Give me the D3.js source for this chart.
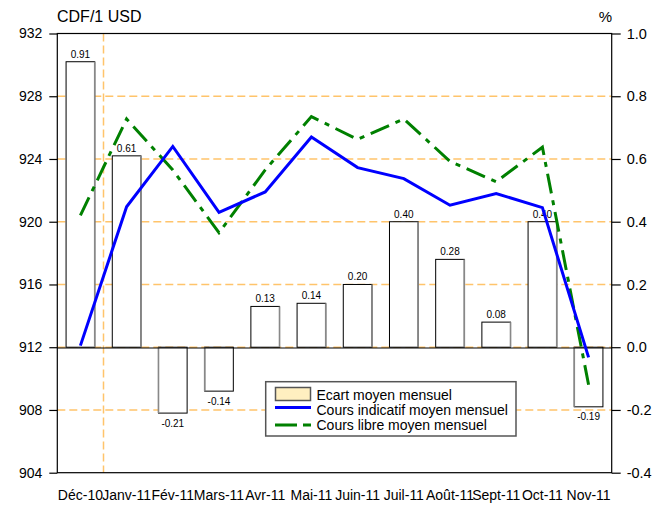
<!DOCTYPE html>
<html>
<head>
<meta charset="utf-8">
<script src="https://cdn.jsdelivr.net/npm/d3@7"></script>
<style>
  body { margin: 0; background: #fff; }
  svg { display: block; font-family: "Liberation Sans", Arial, sans-serif; }
</style>
</head>
<body>
<svg id="chart" width="666" height="507"></svg>
<script>
const categories = ["Déc-10","Janv-11","Fév-11","Mars-11","Avr-11","Mai-11","Juin-11","Juil-11","Août-11","Sept-11","Oct-11","Nov-11"];
const ecartValues = [0.91, 0.61, -0.21, -0.14, 0.13, 0.14, 0.20, 0.40, 0.28, 0.08, 0.40, -0.19];
const coursIndicatif = [912.1, 920.95, 924.8, 920.6, 921.9, 925.4, 923.45, 922.75, 921.05, 921.8, 920.9, 911.35];
const coursLibre = [920.4, 926.55, 923.3, 919.3, 923.3, 926.7, 925.25, 926.55, 923.85, 922.55, 924.75, 909.6];
const leftTicks = [904, 908, 912, 916, 920, 924, 928, 932];
const rightTicks = [-0.4, -0.2, 0.0, 0.2, 0.4, 0.6, 0.8, 1.0];
const gridValues = [908, 912, 916, 920, 924, 928];
const legendLabels = ["Ecart moyen mensuel", "Cours indicatif moyen mensuel", "Cours libre moyen mensuel"];

const L = 57.3, R = 611.7, T = 33.5, B = 472.7;
const svg = d3.select("#chart");

const x = d3.scaleBand().domain(categories).range([L, R]).paddingInner(0.38).paddingOuter(0.19);
const yL = d3.scaleLinear().domain([904, 932]).range([B, T]);
const yR = d3.scaleLinear().domain([-0.4, 1.0]).range([B, T]);
const step = x.step();
const bw = x.bandwidth();
const cx = c => x(c) + bw / 2;

const orange = "#FFC46B";

// gridlines
svg.append("g").selectAll("line").data(gridValues).join("line")
  .attr("x1", L).attr("x2", R)
  .attr("y1", d => yL(d)).attr("y2", d => yL(d))
  .attr("stroke", orange).attr("stroke-width", 1.5).attr("stroke-dasharray", "8,4");

// vertical dashed separator between Déc-10 and Janv-11
const sepX = x(categories[1]) - (step - bw) / 2;
svg.append("line")
  .attr("x1", sepX).attr("x2", sepX).attr("y1", T).attr("y2", B)
  .attr("stroke", orange).attr("stroke-width", 1.5).attr("stroke-dasharray", "8,4");

// bars
const bars = svg.append("g");
ecartValues.forEach((v, i) => {
  const c = categories[i];
  const x0 = x(c), x1 = x(c) + bw;
  const y0 = yR(0), y1 = yR(v);
  const top = Math.min(y0, y1), h = Math.abs(y1 - y0);
  bars.append("rect").attr("x", x0).attr("y", top).attr("width", bw).attr("height", h)
    .attr("fill", "#fff").attr("stroke", "#000").attr("stroke-width", 1);
  const sx = v >= 0 ? x1 : x0;
  bars.append("line").attr("x1", sx).attr("x2", sx).attr("y1", top).attr("y2", top + h)
    .attr("stroke", "#888").attr("stroke-width", 1.6);
});

// zero line (right axis)
svg.append("line").attr("x1", L).attr("x2", R).attr("y1", yR(0) + 0.8).attr("y2", yR(0) + 0.8)
  .attr("stroke", "#000").attr("stroke-width", 1.2);

// bar labels
const fmt2 = d => d3.format(".2f")(d).replace("−", "-");
svg.append("g").selectAll("text").data(ecartValues).join("text")
  .attr("x", (d, i) => cx(categories[i]))
  .attr("y", d => d >= 0 ? yR(d) - 4 : yR(d) + 13.5)
  .attr("text-anchor", "middle")
  .attr("font-size", 10).attr("fill", "#000")
  .text(d => fmt2(d));

// lines
const lineL = d3.line().x((d, i) => cx(categories[i])).y(d => yL(d));
svg.append("path").datum(coursLibre).attr("d", lineL)
  .attr("fill", "none").attr("stroke", "#008000").attr("stroke-width", 3)
  .attr("stroke-dasharray", "20,7,5,7");
svg.append("path").datum(coursIndicatif).attr("d", lineL)
  .attr("fill", "none").attr("stroke", "#0000FF").attr("stroke-width", 3);

// plot border
svg.append("rect").attr("x", L).attr("y", T).attr("width", R - L).attr("height", B - T)
  .attr("fill", "none").attr("stroke", "#000").attr("stroke-width", 1.2);

// axes
const axL = svg.append("g").attr("transform", `translate(${L},0)`)
  .call(d3.axisLeft(yL).tickValues(leftTicks).tickSize(8).tickPadding(7).tickFormat(d3.format("d")));
const axR = svg.append("g").attr("transform", `translate(${R},0)`)
  .call(d3.axisRight(yR).tickValues(rightTicks).tickSize(9).tickPadding(6)
    .tickFormat(d => d3.format(".1f")(d).replace("−", "-")));
const axB = svg.append("g").attr("transform", `translate(0,${B})`)
  .call(d3.axisBottom(x).tickSize(0).tickPadding(17.3));
[axL, axR, axB].forEach(a => {
  a.select(".domain").remove();
  a.selectAll("text").attr("font-size", 14).attr("font-family", "Liberation Sans, Arial, sans-serif").attr("fill", "#000");
  a.selectAll("line").attr("stroke", "#000").attr("stroke-width", 1.2);
});
axR.selectAll("text").attr("font-size", 14.5);

// axis titles
svg.append("text").attr("x", 57).attr("y", 22).attr("font-size", 16).text("CDF/1 USD");
svg.append("text").attr("x", 612).attr("y", 22).attr("font-size", 15).attr("text-anchor", "end").text("%");

// legend
const lg = svg.append("g");
lg.append("rect").attr("x", 265.7).attr("y", 381.7).attr("width", 250.3).attr("height", 54.3)
  .attr("fill", "#fff").attr("stroke", "#555").attr("stroke-width", 1.5);
lg.append("rect").attr("x", 275.5).attr("y", 387.5).attr("width", 35).attr("height", 13)
  .attr("fill", "#FFEFC0").attr("stroke", "#555").attr("stroke-width", 1.5);
lg.append("line").attr("x1", 275).attr("x2", 311).attr("y1", 407.5).attr("y2", 407.5)
  .attr("stroke", "#0000FF").attr("stroke-width", 3);
lg.append("line").attr("x1", 275).attr("x2", 311).attr("y1", 425).attr("y2", 425)
  .attr("stroke", "#008000").attr("stroke-width", 3).attr("stroke-dasharray", "22,6,8,6");
lg.selectAll("text.lbl").data(legendLabels).join("text").attr("class", "lbl")
  .attr("x", 316.5).attr("y", (d, i) => 400 + i * 15)
  .attr("font-size", 14).attr("fill", "#000").text(d => d);
</script>
</body>
</html>
